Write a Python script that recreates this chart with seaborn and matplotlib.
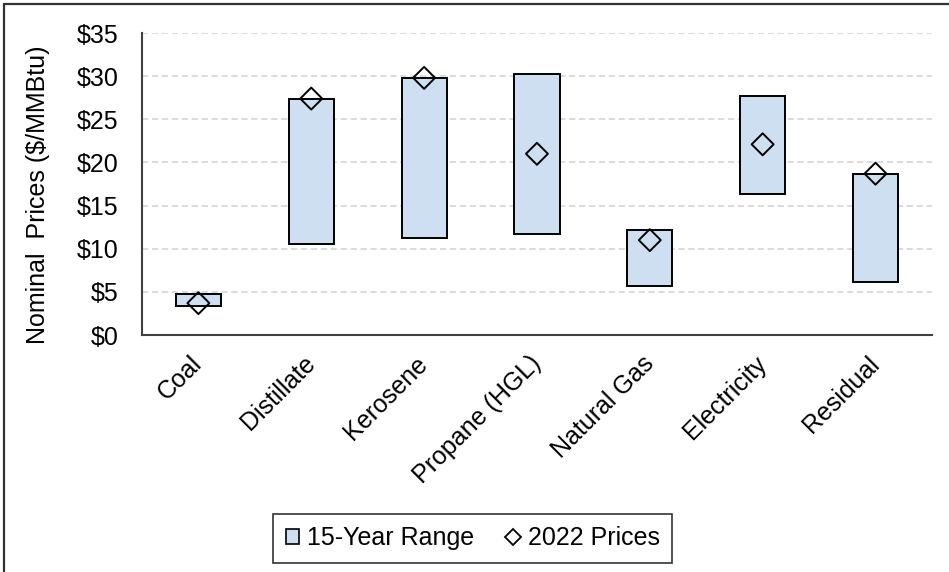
import numpy as np
import pandas as pd
import matplotlib
matplotlib.use("Agg")
import matplotlib.pyplot as plt
from matplotlib.lines import Line2D
from matplotlib.patches import Patch
import seaborn as sns

# Fuel price data ($/MMBtu)
fuels = ["Coal", "Distillate", "Kerosene", "Propane (HGL)", "Natural Gas", "Electricity", "Residual"]
range_low = [3.4, 10.6, 11.3, 11.7, 5.7, 16.4, 6.2]
range_high = [4.8, 27.4, 29.8, 30.2, 12.2, 27.7, 18.7]
prices_2022 = [3.7, 27.4, 29.8, 21.0, 11.0, 22.1, 18.7]
yticks = [0, 5, 10, 15, 20, 25, 30, 35]

sns.set_theme(style="white", rc={"text.color": "black", "axes.labelcolor": "black",
                                 "xtick.color": "black", "ytick.color": "black"})
plt.rcParams["font.family"] = ["Liberation Sans", "DejaVu Sans"]

fill = "#cddff0"
edge = "#000000"
axis_col = "#404040"
fs = 18

df = pd.DataFrame({
    "fuel": fuels,
    "span": np.array(range_high) - np.array(range_low),
    "low": range_low,
    "price": prices_2022,
})

fig = plt.figure(figsize=(9.49, 5.72), dpi=100)
ax = fig.add_axes([0.1496, 0.4143, 0.8324, 0.5280])

sns.barplot(data=df, x="fuel", y="span", bottom=df["low"].to_numpy(), order=fuels,
            color=fill, saturation=1, width=0.4, edgecolor=edge, linewidth=1.4,
            errorbar=None, ax=ax, zorder=3)
sns.scatterplot(x=np.arange(len(fuels)), y=df["price"].to_numpy(), marker="D", s=125,
                facecolor="none", edgecolor=edge, linewidth=1.4, ax=ax, zorder=4,
                legend=False)

ax.set_xlim(-0.5, len(fuels) - 0.5)
ax.set_ylim(0, 35)
ax.set_yticks(yticks)
ax.set_yticklabels([f"${v}" for v in yticks], fontsize=fs)
ax.set_xticks(np.arange(len(fuels)))
ax.set_xticklabels(fuels, fontsize=fs, rotation=45, ha="right", va="center",
                   rotation_mode="anchor")
ax.tick_params(axis="y", length=0, pad=17)
ax.tick_params(axis="x", length=0, pad=18)
ax.set_xlabel("")
ax.set_ylabel("Nominal  Prices ($/MMBtu)", fontsize=fs)
ax.yaxis.set_label_coords(-0.116, 0.465)

ax.yaxis.grid(True, color="#d9d9d9", linestyle=(0, (3.5, 2)), linewidth=1.3, zorder=0)
ax.xaxis.grid(False)
ax.set_axisbelow(True)
for side in ["top", "right"]:
    ax.spines[side].set_visible(False)
for side in ["left", "bottom"]:
    ax.spines[side].set_color(axis_col)
    ax.spines[side].set_linewidth(1.5)

handles = [
    Patch(facecolor=fill, edgecolor=edge, linewidth=1.2, label="15-Year Range"),
    Line2D([], [], marker="D", linestyle="none", markersize=8, markerfacecolor="none",
           markeredgecolor=edge, markeredgewidth=1.3, label="2022 Prices"),
]
leg = fig.legend(handles=handles, loc="center", bbox_to_anchor=(0.498, 0.0586), ncol=2,
                 fontsize=fs, frameon=True, fancybox=False, edgecolor="#000000",
                 handlelength=0.55, handleheight=0.55, handletextpad=0.3,
                 columnspacing=1.3, borderpad=0.5)
leg.get_frame().set_linewidth(1.2)

# Outer frame along the left and top edges
fig.add_artist(Line2D([0.0045, 0.0045], [0.0, 0.993], transform=fig.transFigure,
                      color="#333333", linewidth=1.6))
fig.add_artist(Line2D([0.0045, 1.0], [0.993, 0.993], transform=fig.transFigure,
                      color="#333333", linewidth=1.6))

fig.savefig("out.png", dpi=100)
